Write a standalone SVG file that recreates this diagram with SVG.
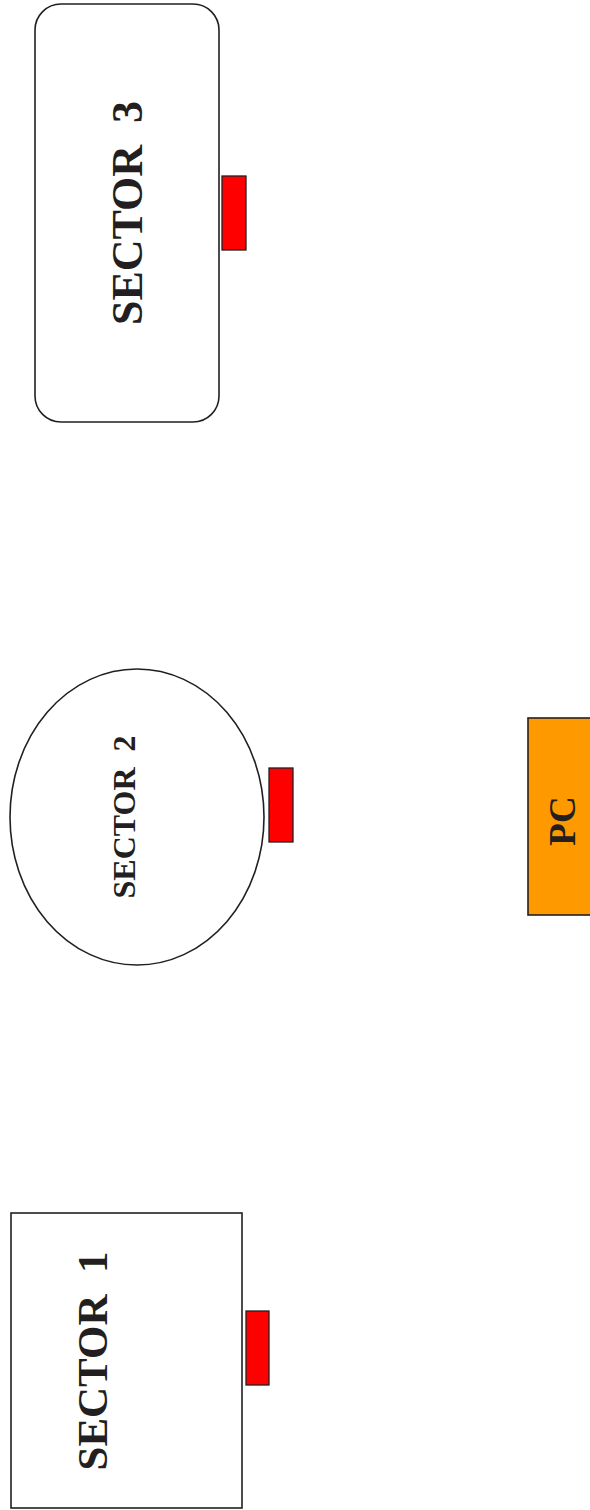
<svg xmlns="http://www.w3.org/2000/svg" width="590" height="1510" viewBox="0 0 590 1510">
<style>
.shape{fill:#fff;stroke:#231f20;stroke-width:1.6}
.port{fill:#ff0000;stroke:#231f20;stroke-width:1.3}
.lbl{font-family:"Liberation Serif","Times New Roman",serif;font-weight:bold;fill:#231f20;text-anchor:middle;white-space:pre}
</style>
<rect width="590" height="1510" fill="#fff"/>
<g id="sector3">
<rect class="shape" x="35" y="4" width="184" height="418" rx="26" ry="26"/>
<text class="lbl" font-size="44" transform="translate(142,213) rotate(-90)" xml:space="preserve">SECTOR  3</text>
<rect class="port" x="222" y="176" width="24" height="74"/>
</g>
<g id="sector2">
<ellipse class="shape" cx="137" cy="817" rx="127" ry="148"/>
<text class="lbl" font-size="32" transform="translate(135,817) rotate(-90)" xml:space="preserve">SECTOR  2</text>
<rect class="port" x="269" y="768" width="24" height="74"/>
</g>
<g id="pc">
<rect x="528" y="718" width="80" height="197" fill="#ff9900" stroke="#231f20" stroke-width="1.6"/>
<text class="lbl" font-size="37" transform="translate(575,821) rotate(-90)">PC</text>
</g>
<g id="sector1">
<rect class="shape" x="11" y="1213" width="231" height="295"/>
<text class="lbl" font-size="43" transform="translate(107,1361) rotate(-90)" xml:space="preserve">SECTOR  1</text>
<rect class="port" x="246" y="1311" width="23" height="74"/>
</g>
<g id="connectors"/>
</svg>
